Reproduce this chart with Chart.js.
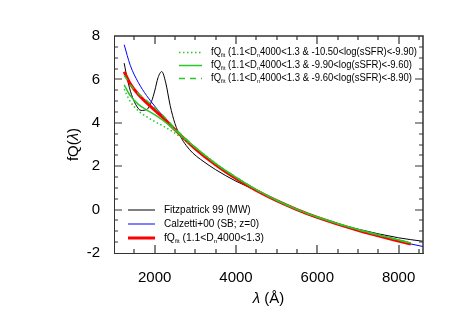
<!DOCTYPE html>
<html>
<head>
<meta charset="utf-8">
<script src="https://cdn.jsdelivr.net/npm/chart.js@4/dist/chart.umd.min.js"></script>
<style>
  html, body { margin: 0; padding: 0; background: #fff; }
</style>
</head>
<body>
<canvas id="grafico" width="457" height="326"></canvas>
<script>
// ---- dados ----
// comprimentos de onda (Å) das curvas ajustadas fQ_fit
const lambdaFit = [1250, 1400, 1600, 1800, 2000, 2200, 2500, 3000, 3500, 4000, 4500, 5000, 5500, 6000, 7000, 8000, 8300];
// fQ_fit (1.1<Dn4000<1.3), vermelho grosso
const fitTodos = [6.35, 5.80, 5.30, 4.93, 4.58, 4.25, 3.68, 2.80, 2.06, 1.43, 0.88, 0.41, 0.00, -0.36, -0.96, -1.45, -1.59];
// -10.50<log(sSFR)<-9.90 (pontilhado)
const fitBaixo = [5.55, 4.98, 4.55, 4.28, 4.06, 3.86, 3.52, 2.86, 2.13, 1.49, 0.92, 0.43, 0.01, -0.34, -0.92, -1.40, -1.54];
// -9.90<log(sSFR)<-9.60 (contínuo)
const fitMedio = [5.75, 5.25, 4.85, 4.60, 4.38, 4.12, 3.66, 2.86, 2.12, 1.49, 0.92, 0.43, 0.01, -0.34, -0.92, -1.40, -1.54];
// -9.60<log(sSFR)<-8.90 (tracejado)
const fitAlto = [6.20, 5.75, 5.35, 5.03, 4.70, 4.35, 3.74, 2.87, 2.12, 1.49, 0.92, 0.43, 0.01, -0.34, -0.92, -1.40, -1.54];

// Fitzpatrick 99 (MW)
const lambdaF99 = [1250, 1333, 1429, 1538, 1667, 1818, 1923, 2000, 2083, 2174, 2273, 2381, 2500, 2632, 2778, 2941, 3125, 3500, 4000, 4500, 5000, 5500, 6000, 7000, 8000, 8600];
const fitz99 = [6.75, 5.97, 5.31, 4.83, 4.57, 4.63, 4.98, 5.46, 6.08, 6.36, 5.84, 4.80, 3.96, 3.38, 2.95, 2.60, 2.32, 1.84, 1.31, 0.88, 0.41, -0.03, -0.38, -0.90, -1.30, -1.46];

// Calzetti+00 (SB; z=0)
const lambdaC00 = [1250, 1400, 1600, 1800, 2000, 2200, 2500, 3000, 3500, 4000, 4500, 5000, 5500, 6000, 6300, 7000, 8000, 8600];
const calz00 = [7.60, 6.65, 5.85, 5.26, 4.77, 4.32, 3.72, 2.84, 2.09, 1.45, 0.90, 0.42, 0.00, -0.37, -0.55, -0.97, -1.46, -1.70];

// marcas dos eixos
const xTicks = [2000, 4000, 6000, 8000];
const yTicks = [-2, 0, 2, 4, 6, 8];
const xMin = 1000, xMax = 8600, yMin = -2, yMax = 8;
// marcas menores a cada 500 Å e 0.5
const xTicksMenores = [1500, 2000, 2500, 3000, 3500, 4000, 4500, 5000, 5500, 6000, 6500, 7000, 7500, 8000, 8500];
const yTicksMenores = [-1.5, -1, -0.5, 0, 0.5, 1, 1.5, 2, 2.5, 3, 3.5, 4, 4.5, 5, 5.5, 6, 6.5, 7, 7.5];

const verde = "rgb(40,200,40)";
const corMoldura = "#333";
const fonte = "'Liberation Sans', Arial, Helvetica, sans-serif";

function pares(xs, ys) {
  return xs.map((x, i) => ({ x: x, y: ys[i] }));
}

// moldura de cima/direita, marcas para dentro, títulos (λ em itálico) e as duas legendas
const textosPlugin = {
  id: "textos",
  afterDraw(chart) {
    const ctx = chart.ctx;
    const a = chart.chartArea;
    const sx = chart.scales.x, sy = chart.scales.y;
    ctx.save();

    const L = Math.round(a.left), R = Math.round(a.right);
    const T = Math.round(a.top), B = Math.round(a.bottom);
    ctx.strokeStyle = corMoldura;
    ctx.lineWidth = 1.5;
    ctx.beginPath();
    ctx.moveTo(L, T); ctx.lineTo(R, T); ctx.lineTo(R, B);
    ctx.stroke();

    ctx.lineWidth = 1.2;
    ctx.beginPath();
    xTicksMenores.forEach(v => {
      const px = Math.round(sx.getPixelForValue(v));
      const len = xTicks.includes(v) ? 8 : 4;
      ctx.moveTo(px, T); ctx.lineTo(px, T + len);
      ctx.moveTo(px, B); ctx.lineTo(px, B - len);
    });
    yTicksMenores.forEach(v => {
      const py = Math.round(sy.getPixelForValue(v));
      const len = yTicks.includes(v) ? 8 : 4;
      ctx.moveTo(R, py); ctx.lineTo(R - len, py);
      ctx.moveTo(L, py); ctx.lineTo(L + len, py);
    });
    ctx.stroke();

    ctx.fillStyle = "#000";
    ctx.textBaseline = "middle";
    ctx.textAlign = "left";
    ctx.font = "italic 15px " + fonte;
    const wL = ctx.measureText("λ").width;
    ctx.font = "15px " + fonte;
    const wR = ctx.measureText(" (Å)").width;
    let x0 = (a.left + a.right) / 2 - (wL + wR) / 2;
    ctx.font = "italic 15px " + fonte;
    ctx.fillText("λ", x0, 299);
    ctx.font = "15px " + fonte;
    ctx.fillText(" (Å)", x0 + wL, 299);

    ctx.save();
    ctx.translate(74, (a.top + a.bottom) / 2);
    ctx.rotate(-Math.PI / 2);
    ctx.font = "15px " + fonte;
    const w1 = ctx.measureText("fQ(").width;
    const w3 = ctx.measureText(")").width;
    ctx.font = "italic 15px " + fonte;
    const w2 = ctx.measureText("λ").width;
    let t0 = -(w1 + w2 + w3) / 2;
    ctx.font = "15px " + fonte;
    ctx.fillText("fQ(", t0, 0);
    ctx.font = "italic 15px " + fonte;
    ctx.fillText("λ", t0 + w1, 0);
    ctx.font = "15px " + fonte;
    ctx.fillText(")", t0 + w1 + w2, 0);
    ctx.restore();

    const linha = (x1, x2, yy, cor, larg, traco) => {
      ctx.save();
      ctx.strokeStyle = cor; ctx.lineWidth = larg; ctx.setLineDash(traco);
      ctx.beginPath(); ctx.moveTo(x1, yy); ctx.lineTo(x2, yy); ctx.stroke();
      ctx.restore();
    };
    const larguraDe = (p) => {
      ctx.font = (p[1] ? "6px " : "10px ") + fonte;
      return ctx.measureText(p[0]).width;
    };
    // partes: [texto, subscrito?]; larguraAlvo comprime o texto na horizontal
    const texto = (xx, yy, partes, larguraAlvo) => {
      const total = partes.reduce((s, p) => s + larguraDe(p), 0);
      const k = larguraAlvo ? larguraAlvo / total : 1;
      ctx.save();
      ctx.translate(xx, yy);
      ctx.scale(k, 1);
      let cx = 0;
      partes.forEach(p => {
        const w = larguraDe(p);
        ctx.fillText(p[0], cx, p[1] ? 3 : 0);
        cx += w;
      });
      ctx.restore();
    };
    const fitTexto = (resto) => [["fQ"], ["fit", true], [" (1.1<D"], ["n", true], [resto]];

    linha(179, 202, 52.5, verde, 1.5, [1.5, 2.5]);
    texto(211, 52.5, fitTexto("4000<1.3 & -10.50<log(sSFR)<-9.90)"), 206);
    linha(179, 202, 65.5, verde, 1.5, []);
    texto(211, 65.5, fitTexto("4000<1.3 & -9.90<log(sSFR)<-9.60)"), 201);
    linha(179, 202, 78.5, verde, 1.5, [6, 5]);
    texto(211, 78.5, fitTexto("4000<1.3 & -9.60<log(sSFR)<-8.90)"), 201);

    linha(128, 155, 210, "#000", 1, []);
    texto(164, 210, [["Fitzpatrick 99 (MW)"]]);
    linha(128, 155, 224, "#00f", 1, []);
    texto(164, 224, [["Calzetti+00 (SB; z=0)"]]);
    linha(128, 155, 238, "#f00", 3, []);
    texto(164, 238, fitTexto("4000<1.3)"), 100);

    ctx.restore();
  }
};

const grafico = new Chart(document.getElementById("grafico"), {
  type: "scatter",
  data: {
    datasets: [
      { data: pares(lambdaFit, fitBaixo), borderColor: verde, borderWidth: 1.5, borderDash: [1.5, 2.5], order: 1 },
      { data: pares(lambdaFit, fitMedio), borderColor: verde, borderWidth: 1.5, order: 2 },
      { data: pares(lambdaFit, fitAlto), borderColor: verde, borderWidth: 1.5, borderDash: [6, 5], order: 3 },
      { data: pares(lambdaFit, fitTodos), borderColor: "#f00", borderWidth: 3, order: 4 },
      { data: pares(lambdaC00, calz00), borderColor: "#00f", borderWidth: 1, order: 5 },
      { data: pares(lambdaF99, fitz99), borderColor: "#000", borderWidth: 1, order: 6 }
    ]
  },
  options: {
    responsive: false,
    animation: false,
    showLine: true,
    elements: {
      point: { radius: 0, hoverRadius: 0 },
      line: { cubicInterpolationMode: "monotone", fill: false }
    },
    layout: { padding: { top: 36, right: 34, left: 0, bottom: 0 } },
    plugins: { legend: { display: false }, tooltip: { enabled: false } },
    scales: {
      x: {
        type: "linear", position: "bottom", min: xMin, max: xMax,
        grid: { display: false },
        border: { display: true, color: corMoldura, width: 1 },
        afterBuildTicks: s => { s.ticks = xTicks.map(v => ({ value: v })); },
        afterFit: s => { s.height = 73; },
        ticks: { autoSkip: false, maxRotation: 0, padding: 8, color: "#000", font: { family: fonte, size: 15 },
                 callback: v => String(v) }
      },
      y: {
        type: "linear", position: "left", min: yMin, max: yMax,
        grid: { display: false },
        border: { display: true, color: corMoldura, width: 1 },
        afterBuildTicks: s => { s.ticks = yTicks.map(v => ({ value: v })); },
        afterFit: s => { s.width = 114; },
        ticks: { autoSkip: false, padding: 6, color: "#000", font: { family: fonte, size: 15 },
                 callback: v => String(v) }
      }
    }
  },
  plugins: [textosPlugin]
});
</script>
</body>
</html>
